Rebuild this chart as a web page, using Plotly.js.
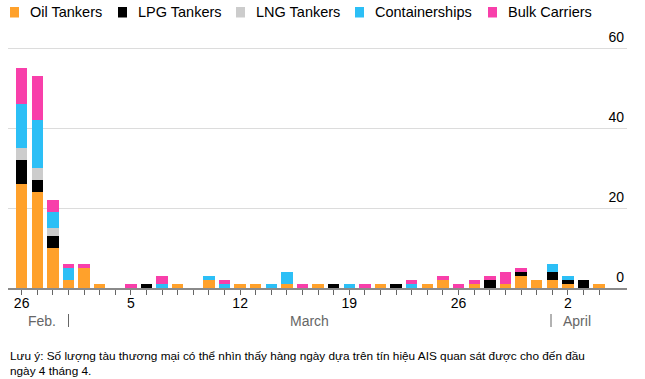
<!DOCTYPE html>
<html>
<head>
<meta charset="utf-8">
<script src="https://cdn.plot.ly/plotly-3.0.1.min.js"></script>
<style>
  html, body { margin: 0; padding: 0; background: #fff; }
  #chart { width: 645px; height: 379px; }
</style>
</head>
<body>
<div id="chart"></div>
<script>
// ---- Data ----
const dates = [
  '2026-02-26','2026-02-27','2026-02-28','2026-03-01','2026-03-02','2026-03-03','2026-03-04','2026-03-05',
  '2026-03-06','2026-03-07','2026-03-08','2026-03-09','2026-03-10','2026-03-11','2026-03-12','2026-03-13',
  '2026-03-14','2026-03-15','2026-03-16','2026-03-17','2026-03-18','2026-03-19','2026-03-20','2026-03-21',
  '2026-03-22','2026-03-23','2026-03-24','2026-03-25','2026-03-26','2026-03-27','2026-03-28','2026-03-29',
  '2026-03-30','2026-03-31','2026-04-01','2026-04-02','2026-04-03','2026-04-04'
];
const oilTankers    = [26,24,10,2,5,1,0,0, 0,0,1,0,2,0,1,1, 0,1,0,1,0,0,0,1, 0,0,1,2,0,1,0,1, 3,2,2,1,0,1];
const lpgTankers    = [ 6, 3, 3,0,0,0,0,0, 1,0,0,0,0,0,0,0, 0,0,0,0,1,0,0,0, 1,0,0,0,0,0,2,0, 1,0,2,1,2,0];
const lngTankers    = [ 3, 3, 2,0,0,0,0,0, 0,0,0,0,0,0,0,0, 0,0,0,0,0,0,0,0, 0,0,0,0,0,0,0,0, 0,0,0,0,0,0];
const containerships= [11,12, 4,3,0,0,0,0, 0,1,0,0,1,1,0,0, 1,3,0,0,0,1,0,0, 0,1,0,0,0,0,0,0, 0,0,2,1,0,0];
const bulkCarriers  = [ 9,11, 3,1,1,0,0,1, 0,2,0,0,0,1,0,0, 0,0,1,0,0,0,1,0, 0,1,0,1,1,1,1,3, 1,0,0,0,0,0];

const seriesNames  = ['Oil Tankers','LPG Tankers','LNG Tankers','Containerships','Bulk Carriers'];
const seriesValues = [oilTankers, lpgTankers, lngTankers, containerships, bulkCarriers];
const seriesColors = ['#FFA12B','#000000','#CCCCCC','#2CBFF6','#F83FAA'];

const xTickVals = ['2026-02-26','2026-03-05','2026-03-12','2026-03-19','2026-03-26','2026-04-02'];
const xTickText = ['26','5','12','19','26','2'];
const yTickVals = [0,20,40,60];
const yTickText = ['0','20','40','60'];

const monthLabels = ['Feb.','March','April'];
const noteLines = [
  'Lưu ý: Số lượng tàu thương mại có thể nhìn thấy hàng ngày dựa trên tín hiệu AIS quan sát được cho đến đầu',
  'ngày 4 tháng 4.'
];

// ---- Layout geometry (pixels) ----
const W = 645, H = 379;
const M = { l: 8, r: 18, t: 28, b: 91 };
const PW = W - M.l - M.r, PH = H - M.t - M.b;
const px = x => (x - M.l) / PW;          // pixel -> paper x
const py = y => (H - M.b - y) / PH;      // pixel -> paper y

const FONT = '"Liberation Sans", Arial, Helvetica, sans-serif';

const traces = seriesNames.map((name, i) => ({
  type: 'bar',
  name: name,
  x: dates,
  y: seriesValues[i],
  marker: { color: seriesColors[i], line: { width: 0 } },
  hoverinfo: 'skip'
}));

// Custom legend
const legendSquareX = [10, 118, 236, 355, 488];
const legendTextX   = [28, 136, 254, 373, 506];
const shapes = [];
const annotations = [];
seriesNames.forEach((name, i) => {
  shapes.push({
    type: 'rect', xref: 'paper', yref: 'paper',
    x0: px(legendSquareX[i]), x1: px(legendSquareX[i] + 9),
    y0: py(17.5), y1: py(7),
    fillcolor: seriesColors[i], line: { width: 0 }
  });
  annotations.push({
    xref: 'paper', yref: 'paper', x: px(legendTextX[i]), y: py(12.5),
    xanchor: 'left', yanchor: 'middle', showarrow: false,
    text: name, font: { family: FONT, size: 14.5, color: '#000' }
  });
});

// Month labels
const monthX = [42, 309, 577];
monthLabels.forEach((m, i) => {
  annotations.push({
    xref: 'paper', yref: 'paper', x: px(monthX[i]), y: py(320.5),
    xanchor: 'center', yanchor: 'middle', showarrow: false,
    text: m, font: { family: FONT, size: 14, color: '#666' }
  });
});
// Month separators
[68.5, 551].forEach(x => {
  shapes.push({
    type: 'line', xref: 'paper', yref: 'paper',
    x0: px(x), x1: px(x), y0: py(314), y1: py(327),
    line: { color: '#666', width: 1 }
  });
});

// Note
const noteY = [356, 371];
noteLines.forEach((t, i) => {
  annotations.push({
    xref: 'paper', yref: 'paper', x: px(8), y: py(noteY[i]),
    xanchor: 'left', yanchor: 'middle', showarrow: false,
    text: t, font: { family: FONT, size: 11.8, color: '#000' }
  });
});

const layout = {
  width: W, height: H,
  margin: M,
  paper_bgcolor: '#fff', plot_bgcolor: '#fff',
  barmode: 'stack',
  bargap: 0.27,
  showlegend: false,
  font: { family: FONT, size: 14, color: '#000' },
  xaxis: {
    type: 'date',
    range: ['2026-02-25 03:00', '2026-04-05 19:00'],
    tickmode: 'array',
    tickvals: xTickVals,
    ticktext: xTickText,
    ticks: 'outside', ticklen: 2, tickwidth: 1, tickcolor: '#666',
    tickfont: { family: FONT, size: 14, color: '#000' },
    showgrid: false, zeroline: false,
    showline: true, linecolor: '#8a8a8a', linewidth: 1.5,
    minor: { dtick: 86400000, tick0: '2026-02-26', ticks: 'outside', ticklen: 5, tickwidth: 1, tickcolor: '#666', showgrid: false },
    fixedrange: true
  },
  yaxis: {
    range: [0, 65],
    side: 'right',
    tickmode: 'array',
    tickvals: yTickVals,
    ticktext: yTickText,
    ticklabelposition: 'inside',
    ticklabelshift: -11,
    ticklabelstandoff: 0,
    ticks: '',
    tickfont: { family: FONT, size: 14, color: '#000' },
    showgrid: true, gridcolor: '#dcdcdc', gridwidth: 1,
    zeroline: false, showline: false,
    fixedrange: true
  },
  shapes: shapes,
  annotations: annotations
};

Plotly.newPlot('chart', traces, layout, { displayModeBar: false, staticPlot: true });
</script>
</body>
</html>
